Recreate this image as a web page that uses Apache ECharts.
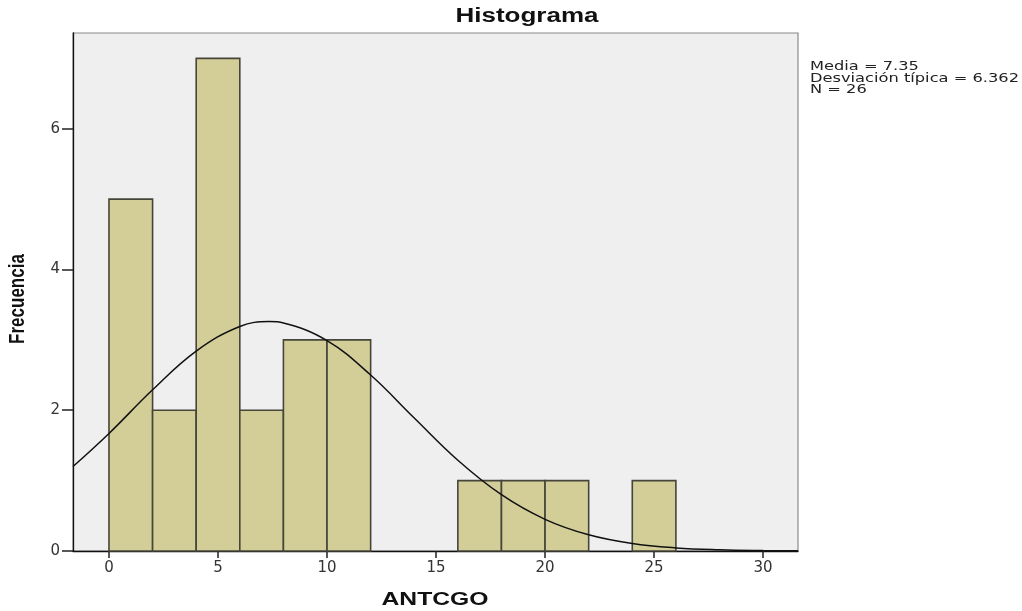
<!DOCTYPE html>
<html><head><meta charset="utf-8">
<script src="https://cdn.jsdelivr.net/npm/echarts@6/dist/echarts.min.js"></script>
<style>html,body{margin:0;padding:0;background:#fff}#c{width:1022px;height:611px}</style>
</head><body><div id="c"></div>
<script>
const binStart = [0, 2, 4, 6, 8, 10, 16, 18, 20, 24];
const binWidth = 2;
const counts = [5, 2, 7, 2, 3, 3, 1, 1, 1, 1];
const curveX = [-1.65, 0, 2, 4, 6, 7.35, 8, 10, 12, 14, 16, 18, 20, 22, 24, 26, 28, 30, 31.6];
const curveY = [1.20, 1.67, 2.29, 2.84, 3.19, 3.26, 3.24, 2.99, 2.50, 1.89, 1.29, 0.80, 0.45, 0.23, 0.106, 0.044, 0.017, 0.006, 0.003];
const xTicks = [0, 5, 10, 15, 20, 25, 30];
const yTicks = [0, 2, 4, 6];
const titleText = 'Histograma';
const xName = 'ANTCGO';
const yName = 'Frecuencia';
const statsText = ['Media = 7.35', 'Desviación típica = 6.362', 'N = 26'];

const chart = echarts.init(document.getElementById('c'), null, {renderer: 'canvas'});
const barData = binStart.map((s, i) => [s, s + binWidth, counts[i]]);
const sans = '"Liberation Sans", Arial, sans-serif';
const wide = '"DejaVu Sans", sans-serif';
chart.setOption({
  animation: false,
  graphic: [{
    type: 'text', x: 527, y: 16, scaleX: 1.3,
    style: {text: titleText, font: 'bold 20px ' + sans, fill: '#111', align: 'center', verticalAlign: 'middle'}
  }, {
    type: 'text', x: 435, y: 600, scaleX: 1.3,
    style: {text: xName, font: 'bold 19px ' + sans, fill: '#111', align: 'center', verticalAlign: 'middle'}
  }, {
    type: 'text', x: 18, y: 299, rotation: Math.PI / 2, scaleY: 1.3,
    style: {text: yName, font: 'bold 17px ' + sans, fill: '#111', align: 'center', verticalAlign: 'middle'}
  }, {
    type: 'text', x: 810, y: 61.5, scaleX: 1.3,
    style: {text: statsText.join('\n'), font: '12.5px ' + wide, fill: '#222', lineHeight: 11.3, align: 'left', verticalAlign: 'top'}
  }],
  grid: {left: 73, top: 33, right: 224, bottom: 60, outerBoundsMode: 'none', containLabel: false,
         show: true, backgroundColor: '#efefef', borderColor: '#8a8a8a', borderWidth: 1.2},
  xAxis: {
    type: 'value', min: -1.65, max: 31.6,
    axisLine: {show: true, onZero: false, lineStyle: {color: '#111', width: 1.3}},
    axisTick: {show: true, length: 7, customValues: xTicks, lineStyle: {color: '#222', width: 1.5}},
    axisLabel: {customValues: xTicks, fontFamily: wide, fontSize: 15, color: '#333', margin: 10},
    splitLine: {show: false}
  },
  yAxis: {
    type: 'value', min: 0, max: 7.36,
    axisLine: {show: true, onZero: false, lineStyle: {color: '#111', width: 1.3}},
    axisTick: {show: true, length: 11, customValues: yTicks, lineStyle: {color: '#222', width: 1.5}},
    axisLabel: {customValues: yTicks, fontFamily: wide, fontSize: 15, color: '#333', margin: 13},
    splitLine: {show: false}
  },
  series: [{
    type: 'custom',
    data: barData,
    encode: {x: [0, 1], y: 2},
    renderItem: function (params, api) {
      const p0 = api.coord([api.value(0), api.value(2)]);
      const p1 = api.coord([api.value(1), 0]);
      return {
        type: 'rect',
        shape: {x: p0[0], y: p0[1], width: p1[0] - p0[0], height: p1[1] - p0[1]},
        style: {fill: '#d3ce98', stroke: '#45453a', lineWidth: 1.6}
      };
    },
    z: 2
  }, {
    type: 'line',
    data: curveX.map((x, i) => [x, curveY[i]]),
    smooth: 0.4, showSymbol: false,
    lineStyle: {color: '#111', width: 1.5},
    z: 3
  }]
});
</script></body></html>
